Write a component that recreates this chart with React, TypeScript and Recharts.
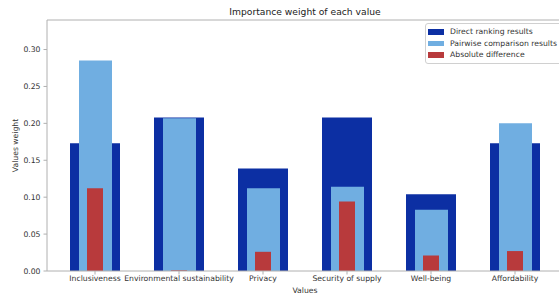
import { BarChart, Bar, XAxis, YAxis, Legend, ReferenceLine } from 'recharts';

const categories = ['Inclusiveness', 'Environmental sustainability', 'Privacy', 'Security of supply', 'Well-being', 'Affordability'];
const directRanking = [0.173, 0.208, 0.139, 0.208, 0.104, 0.173];
const pairwise = [0.285, 0.207, 0.112, 0.114, 0.083, 0.2];
const absDiff = [0.112, 0.001, 0.026, 0.094, 0.021, 0.027];
const yTicks = [0, 0.05, 0.1, 0.15, 0.2, 0.25, 0.3];

const seriesNames = ['Direct ranking results', 'Pairwise comparison results', 'Absolute difference'];
const COLORS = ['#0c2fa3', '#70aee1', '#b83a3c'];

const data = categories.map((name, i) => ({
  name,
  direct: directRanking[i],
  pairwise: pairwise[i],
  diff: absDiff[i],
}));

const FONT = '"DejaVu Sans", sans-serif';
const AXIS = '#b0b0b0';
const TXT = '#333';
const PAD = { left: 6, right: 6 };

// custom legend box, top-right like matplotlib's
function LegendBox() {
  return (
    <div style={{
      border: '1px solid #d0d0d0', borderRadius: 3, background: 'rgba(255,255,255,0.85)',
      padding: '2px 20px 2px 2px', fontFamily: FONT, fontSize: 7.7, color: TXT, lineHeight: '11.5px',
    }}>
      {seriesNames.map((s, i) => (
        <div key={i} style={{ display: 'flex', alignItems: 'center', whiteSpace: 'nowrap' }}>
          <span style={{ display: 'inline-block', width: 16, height: 5.5, background: COLORS[i], marginRight: 6 }} />
          {s}
        </div>
      ))}
    </div>
  );
}

export default function App() {
  return (
    <div style={{ position: 'absolute', left: 0, top: 0, width: 559, height: 297, overflow: 'hidden', background: '#fff' }}>
      <div style={{ position: 'absolute', left: 0, top: 0, width: 563, textAlign: 'center', paddingLeft: 47, boxSizing: 'border-box' }}>
      </div>
      <BarChart width={575} height={297} data={data} margin={{ top: 20, right: 12, bottom: 0, left: 0 }}>
        <text x={305} y={15} textAnchor="middle" fontFamily={FONT} fontSize={9.2} fill="#222">
          Importance weight of each value
        </text>
        <XAxis
          xAxisId="a"
          dataKey="name"
          height={26}
          padding={PAD}
          stroke={AXIS}
          tickSize={3.5}
          tickMargin={1}
          interval={0}
          tick={{ fill: TXT, fontSize: 7.7, fontFamily: FONT }}
          label={{ value: 'Values', position: 'insideBottom', offset: 4, fill: TXT, fontSize: 7.7, fontFamily: FONT }}
        />
        <XAxis xAxisId="b" dataKey="name" hide padding={PAD} />
        <XAxis xAxisId="c" dataKey="name" hide padding={PAD} />
        <YAxis
          width={47}
          domain={[0, 0.34]}
          ticks={yTicks}
          stroke={AXIS}
          tickSize={3.5}
          tickMargin={3}
          tickFormatter={(v: number) => v.toFixed(2)}
          tick={{ fill: TXT, fontSize: 7.7, fontFamily: FONT }}
          label={{ value: 'Values weight', angle: -90, position: 'center', dx: -8, fill: TXT, fontSize: 7.7, fontFamily: FONT }}
        />
        <ReferenceLine y={0.34} stroke={AXIS} ifOverflow="extendDomain" />
        <Bar xAxisId="a" dataKey="direct" name={seriesNames[0]} fill={COLORS[0]} barSize={50} isAnimationActive={false} />
        <Bar xAxisId="b" dataKey="pairwise" name={seriesNames[1]} fill={COLORS[1]} barSize={33} isAnimationActive={false} />
        <Bar xAxisId="c" dataKey="diff" name={seriesNames[2]} fill={COLORS[2]} barSize={16} isAnimationActive={false} />
        <Legend
          layout="vertical"
          align="center"
          verticalAlign="middle"
          content={() => <LegendBox />}
          wrapperStyle={{ position: 'absolute', left: 425, top: 23, width: 'auto' }}
        />
      </BarChart>
    </div>
  );
}
